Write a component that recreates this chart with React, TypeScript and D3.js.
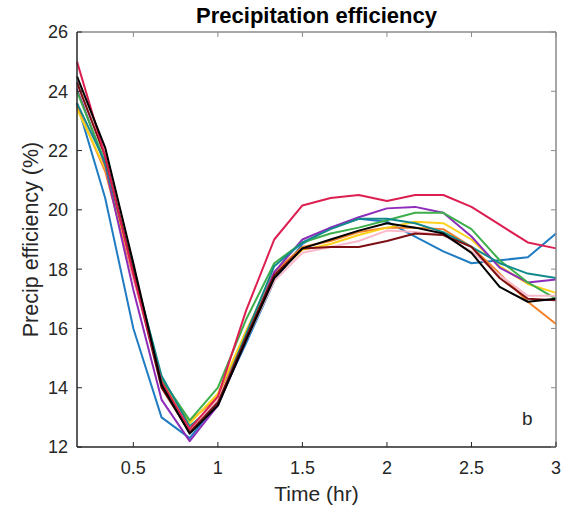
import React from "react";
import * as d3 from "d3";

const times = d3.range(1, 19).map((k) => k / 6);

const seriesNames = ["blue", "orange", "yellow", "purple", "green", "teal", "pink", "maroon", "crimson", "black"];

const blue = [23.6, 20.4, 16.0, 13.0, 12.3, 13.5, 15.5, 17.6, 18.85, 19.4, 19.7, 19.6, 19.1, 18.6, 18.2, 18.3, 18.4, 19.2];
const orange = [23.5, 21.3, 17.7, 14.3, 12.85, 13.7, 15.9, 17.9, 18.75, 18.95, 19.25, 19.4, 19.4, 19.35, 18.75, 17.85, 16.9, 16.15];
const yellow = [23.4, 21.4, 17.9, 14.2, 12.8, 13.8, 15.9, 17.8, 18.65, 18.85, 19.15, 19.4, 19.6, 19.55, 19.0, 18.1, 17.5, 17.2];
const purple = [24.1, 21.5, 17.3, 13.6, 12.2, 13.4, 15.6, 17.9, 19.0, 19.4, 19.75, 20.05, 20.1, 19.9, 19.1, 18.05, 17.55, 17.65];
const green = [24.0, 21.6, 18.0, 14.3, 12.9, 14.0, 16.3, 18.2, 18.9, 19.2, 19.4, 19.65, 19.9, 19.9, 19.35, 18.3, 17.55, 17.0];
const teal = [23.6, 21.6, 18.0, 14.4, 12.7, 13.5, 15.8, 18.1, 18.9, 19.35, 19.7, 19.7, 19.55, 19.25, 18.75, 18.2, 17.85, 17.7];
const pink = [24.2, 22.0, 17.7, 14.1, 12.6, 13.6, 15.6, 17.6, 18.55, 18.75, 18.95, 19.3, 19.25, 19.15, 18.6, 17.8, 17.1, 17.1];
const maroon = [24.3, 21.8, 17.9, 14.0, 12.5, 13.5, 15.7, 17.8, 18.7, 18.75, 18.75, 18.95, 19.2, 19.15, 18.75, 17.7, 17.0, 16.95];
const crimson = [25.0, 21.8, 17.8, 14.2, 12.6, 13.7, 16.6, 19.0, 20.15, 20.4, 20.5, 20.3, 20.5, 20.5, 20.1, 19.5, 18.9, 18.7];
const black = [24.5, 22.1, 18.2, 14.1, 12.45, 13.4, 15.6, 17.7, 18.7, 19.0, 19.3, 19.55, 19.4, 19.2, 18.55, 17.4, 16.9, 17.0];

const seriesValues = [blue, orange, yellow, purple, green, teal, pink, maroon, crimson, black];
const seriesColors = ["#1f7cc2", "#f0802a", "#fcd21c", "#8e2cba", "#3daf4b", "#128a8c", "#f9b9c8", "#7d0f12", "#dc1f50", "#000000"];

const xTicks = [0.5, 1, 1.5, 2, 2.5, 3];
const yTicks = [12, 14, 16, 18, 20, 22, 24, 26];

const W = 563;
const H = 508;
const L = 77, R = 556, T = 32, B = 447;
const FONT = "'Liberation Sans', Arial, Helvetica, sans-serif";

export default function App() {
  const x = d3.scaleLinear().domain([1 / 6, 3]).range([L, R]);
  const y = d3.scaleLinear().domain([12, 26]).range([B, T]);
  const line = d3
    .line<number>()
    .x((_, i) => x(times[i]))
    .y((d) => y(d));

  return (
    <svg width={W} height={H} style={{ position: "absolute", left: 0, top: 0, background: "#fff" }} fontFamily={FONT}>
      <rect x={0} y={0} width={W} height={H} fill="#fff" />
      {seriesValues.map((vals, i) => (
        <path key={seriesNames[i]} d={line(vals) || ""} fill="none" stroke={seriesColors[i]} strokeWidth={2} strokeLinejoin="round" />
      ))}
      <line x1={L} x2={R} y1={T} y2={T} stroke="#8a8a8a" strokeWidth={1.5} />
      <line x1={R} x2={R} y1={T} y2={B} stroke="#8a8a8a" strokeWidth={1.5} />
      <line x1={L} x2={R} y1={B} y2={B} stroke="#262626" strokeWidth={1.5} />
      <line x1={L} x2={L} y1={T} y2={B} stroke="#262626" strokeWidth={1.5} />
      {xTicks.map((t) => (
        <g key={"x" + t}>
          <line x1={x(t)} x2={x(t)} y1={B} y2={B - 5} stroke="#262626" strokeWidth={1} />
          <line x1={x(t)} x2={x(t)} y1={T} y2={T + 5} stroke="#8a8a8a" strokeWidth={1} />
          <text x={x(t)} y={474} textAnchor="middle" fontSize={18} fill="#262626">
            {String(t)}
          </text>
        </g>
      ))}
      {yTicks.map((t) => (
        <g key={"y" + t}>
          <line x1={L} x2={L + 5} y1={y(t)} y2={y(t)} stroke="#262626" strokeWidth={1} />
          <line x1={R} x2={R - 5} y1={y(t)} y2={y(t)} stroke="#8a8a8a" strokeWidth={1} />
          <text x={68} y={y(t)} dy="0.36em" textAnchor="end" fontSize={18} fill="#262626">
            {String(t)}
          </text>
        </g>
      ))}
      <text x={(L + R) / 2} y={23} textAnchor="middle" fontSize={22} fontWeight="bold" fill="#000">
        Precipitation efficiency
      </text>
      <text x={(L + R) / 2} y={501} textAnchor="middle" fontSize={21} fill="#262626">
        Time (hr)
      </text>
      <text transform={`translate(38,${(T + B) / 2}) rotate(-90)`} textAnchor="middle" fontSize={21.5} fill="#262626">
        Precip efficiency (%)
      </text>
      <text x={522} y={425} fontSize={19} fontWeight="normal" fill="#262626">
        b
      </text>
    </svg>
  );
}
